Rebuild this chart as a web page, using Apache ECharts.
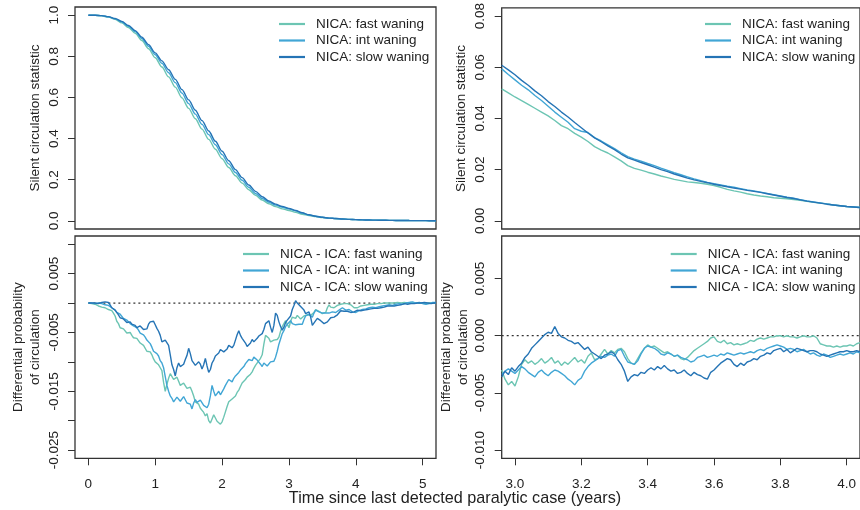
<!DOCTYPE html>
<html>
<head>
<meta charset="utf-8">
<script src="https://cdn.jsdelivr.net/npm/echarts@6/dist/echarts.min.js"></script>
<style>
  html, body { margin: 0; padding: 0; background: #ffffff; }
  #chart { width: 860px; height: 510px; }
</style>
</head>
<body>
<div id="chart"></div>
<script>
// ---- series names ----
const namesSurv = ['NICA: fast waning', 'NICA: int waning', 'NICA: slow waning'];
const namesDiff = ['NICA - ICA: fast waning', 'NICA - ICA: int waning', 'NICA - ICA: slow waning'];

// ---- tick labels ----
const ticksTimeFull = ['0', '1', '2', '3', '4', '5'];
const ticksTimeZoom = ['3.0', '3.2', '3.4', '3.6', '3.8', '4.0'];
const ticksSurvFull = ['0.0', '0.2', '0.4', '0.6', '0.8', '1.0'];
const ticksSurvZoom = ['0.00', '0.02', '0.04', '0.06', '0.08'];
const tickMarksDiffFull = ['-0.025', '-0.020', '-0.015', '-0.010', '-0.005', '0.000', '0.005', '0.010'];
const ticksDiffFull = ['-0.025', '-0.015', '-0.005', '0.005'];
const ticksDiffZoom = ['-0.010', '-0.005', '0.000', '0.005'];

// ---- silent circulation statistic, years 0 to 5.2 every 0.1 ----
const survFast = [1.000, 1.000, 0.997, 0.991, 0.980, 0.963, 0.940, 0.912, 0.877, 0.837,
  0.793, 0.748, 0.700, 0.650, 0.598, 0.547, 0.496, 0.446, 0.396, 0.348,
  0.302, 0.259, 0.219, 0.183, 0.151, 0.124, 0.101, 0.083, 0.069, 0.058,
  0.050, 0.041, 0.032, 0.026, 0.021, 0.016, 0.013, 0.010, 0.0085, 0.007,
  0.0055, 0.0045, 0.0037, 0.003, 0.0025, 0.002, 0.0016, 0.0013, 0.001, 0.0008,
  0.0006, 0.0005, 0.0004];
const survInt = [1.000, 1.000, 0.998, 0.992, 0.982, 0.967, 0.946, 0.920, 0.887, 0.849,
  0.808, 0.766, 0.720, 0.672, 0.621, 0.570, 0.519, 0.469, 0.419, 0.370,
  0.322, 0.277, 0.235, 0.197, 0.163, 0.133, 0.109, 0.090, 0.076, 0.066,
  0.058, 0.048, 0.037, 0.028, 0.022, 0.017, 0.013, 0.011, 0.009, 0.007,
  0.0055, 0.0045, 0.0037, 0.003, 0.0025, 0.002, 0.0016, 0.0013, 0.001, 0.0008,
  0.0006, 0.0005, 0.0004];
const survSlow = [1.000, 1.000, 0.998, 0.993, 0.984, 0.970, 0.950, 0.925, 0.893, 0.857,
  0.817, 0.778, 0.735, 0.688, 0.638, 0.588, 0.538, 0.487, 0.437, 0.387,
  0.338, 0.292, 0.249, 0.210, 0.174, 0.143, 0.117, 0.096, 0.081, 0.070,
  0.060, 0.050, 0.039, 0.029, 0.022, 0.017, 0.013, 0.011, 0.009, 0.007,
  0.0055, 0.0045, 0.0037, 0.003, 0.0025, 0.002, 0.0016, 0.0013, 0.001, 0.0008,
  0.0006, 0.0005, 0.0004];

// ---- silent circulation statistic, years 2.96 to 4.04 every 0.02 ----
const survFastZoom = [0.0516, 0.0500, 0.0484, 0.0470, 0.0455, 0.0440, 0.0425, 0.0410, 0.0392, 0.0372,
  0.0360, 0.0342, 0.0327, 0.0310, 0.0290, 0.0276, 0.0265, 0.0250, 0.0234, 0.0216,
  0.0205, 0.0198, 0.0190, 0.0183, 0.0175, 0.0169, 0.0162, 0.0157, 0.0152, 0.0150,
  0.0147, 0.0143, 0.0138, 0.0131, 0.0123, 0.0117, 0.0112, 0.0106, 0.0101, 0.0097,
  0.0094, 0.0090, 0.0088, 0.0086, 0.0083, 0.0080, 0.0076, 0.0072, 0.0069, 0.0066,
  0.0062, 0.0059, 0.0056, 0.0054, 0.0052];
const survIntZoom = [0.0594, 0.0572, 0.0551, 0.0530, 0.0512, 0.0490, 0.0470, 0.0448, 0.0425, 0.0405,
  0.0385, 0.0360, 0.0350, 0.0345, 0.0325, 0.0312, 0.0297, 0.0282, 0.0266, 0.0251,
  0.0241, 0.0233, 0.0224, 0.0216, 0.0206, 0.0197, 0.0188, 0.0180, 0.0172, 0.0164,
  0.0157, 0.0150, 0.0145, 0.0140, 0.0135, 0.0131, 0.0126, 0.0121, 0.0117, 0.0112,
  0.0107, 0.0102, 0.0097, 0.0092, 0.0088, 0.0083, 0.0078, 0.0074, 0.0070, 0.0066,
  0.0062, 0.0059, 0.0056, 0.0054, 0.0052];
const survSlowZoom = [0.0608, 0.0590, 0.0571, 0.0549, 0.0530, 0.0508, 0.0489, 0.0466, 0.0447, 0.0425,
  0.0406, 0.0384, 0.0364, 0.0343, 0.0324, 0.0309, 0.0293, 0.0278, 0.0261, 0.0246,
  0.0237, 0.0228, 0.0219, 0.0210, 0.0200, 0.0192, 0.0183, 0.0175, 0.0167, 0.0160,
  0.0154, 0.0149, 0.0143, 0.0138, 0.0133, 0.0128, 0.0124, 0.0119, 0.0115, 0.0111,
  0.0106, 0.0101, 0.0096, 0.0091, 0.0087, 0.0082, 0.0077, 0.0073, 0.0069, 0.0065,
  0.0062, 0.0059, 0.0056, 0.0054, 0.0052];

// ---- differential probability of circulation, years 0 to 5.2 every 0.025 ----
const diffFast = [
  0, 0.0000, -0.0001, -0.0002, -0.0002, -0.0004, -0.0005, -0.0005, -0.0007, -0.0009,
  -0.0008, -0.0010, -0.0011, -0.0012, -0.0013, -0.0017, -0.0022, -0.0031, -0.0035, -0.0042,
  -0.0045, -0.0044, -0.0047, -0.0051, -0.0052, -0.0050, -0.0055, -0.0059, -0.0061, -0.0060,
  -0.0063, -0.0068, -0.0067, -0.0072, -0.0075, -0.0082, -0.0085, -0.0083, -0.0088, -0.0095,
  -0.0100, -0.0099, -0.0105, -0.0110, -0.0115, -0.0135, -0.0150, -0.0138, -0.0128, -0.0120,
  -0.0122, -0.0130, -0.0128, -0.0126, -0.0133, -0.0140, -0.0142, -0.0136, -0.0138, -0.0145,
  -0.0146, -0.0143, -0.0150, -0.0158, -0.0168, -0.0165, -0.0172, -0.0179, -0.0180, -0.0186,
  -0.0192, -0.0188, -0.0200, -0.0204, -0.0197, -0.0190, -0.0193, -0.0201, -0.0198, -0.0206,
  -0.0202, -0.0194, -0.0185, -0.0176, -0.0168, -0.0170, -0.0163, -0.0165, -0.0158, -0.0152,
  -0.0148, -0.0142, -0.0136, -0.0138, -0.0130, -0.0126, -0.0123, -0.0121, -0.0117, -0.0111,
  -0.0106, -0.0103, -0.0098, -0.0094, -0.0088, -0.0070, -0.0055, -0.0058, -0.0060, -0.0066,
  -0.0068, -0.0063, -0.0065, -0.0062, -0.0058, -0.0048, -0.0040, -0.0035, -0.0030, -0.0036,
  -0.0042, -0.0031, -0.0024, -0.0027, -0.0026, -0.0021, -0.0023, -0.0027, -0.0024, -0.0022,
  -0.0025, -0.0020, -0.0017, -0.0021, -0.0023, -0.0016, -0.0011, -0.0013, -0.0014, -0.0017,
  -0.0018, -0.0015, -0.0016, -0.0008, -0.0003, -0.0007, -0.0009, -0.0008, -0.0006, -0.0004,
  -0.0003, -0.0002, 0.0000, -0.0001, -0.0002, -0.0001, 0.0000, -0.0003, -0.0006, -0.0008,
  -0.0009, -0.0008, -0.0007, -0.0005, -0.0003, -0.0004, -0.0004, -0.0003, -0.0002, -0.0002,
  -0.0003, -0.0002, -0.0001, -0.0001, -0.0002, -0.0001, 0.0000, 0.0000, -0.0001, 0.0000,
  0.0000, 0.0000, -0.0001, 0.0000, 0.0001, 0.0001, 0.0000, 0.0000, 0.0001, 0.0001,
  0.0000, 0.0000, 0.0001, 0.0001, 0.0000, 0.0000, 0.0001, 0.0000, 0.0000, 0.0000,
  0.0000, -0.0001, -0.0001, 0.0000, 0.0000, 0.0000, 0.0000, 0.0000, 0.0000];
const diffInt = [
  0, 0.0000, 0, -0.0001, -0.0001, 0.0001, 0.0000, -0.0002, -0.0001, -0.0002,
  -0.0003, -0.0002, -0.0004, -0.0007, -0.0008, -0.0009, -0.0012, -0.0016, -0.0018, -0.0019,
  -0.0022, -0.0026, -0.0028, -0.0029, -0.0032, -0.0035, -0.0035, -0.0039, -0.0041, -0.0042,
  -0.0046, -0.0051, -0.0053, -0.0054, -0.0058, -0.0063, -0.0066, -0.0069, -0.0075, -0.0082,
  -0.0085, -0.0086, -0.0090, -0.0098, -0.0102, -0.0110, -0.0125, -0.0140, -0.0150, -0.0158,
  -0.0162, -0.0168, -0.0165, -0.0160, -0.0160, -0.0167, -0.0166, -0.0159, -0.0162, -0.0170,
  -0.0168, -0.0172, -0.0180, -0.0170, -0.0164, -0.0169, -0.0172, -0.0165, -0.0168, -0.0174,
  -0.0176, -0.0178, -0.0172, -0.0158, -0.0140, -0.0150, -0.0158, -0.0154, -0.0150, -0.0156,
  -0.0154, -0.0146, -0.0140, -0.0137, -0.0130, -0.0128, -0.0134, -0.0128, -0.0124, -0.0123,
  -0.0118, -0.0114, -0.0112, -0.0108, -0.0103, -0.0101, -0.0096, -0.0099, -0.0098, -0.0092,
  -0.0094, -0.0097, -0.0100, -0.0104, -0.0108, -0.0102, -0.0103, -0.0107, -0.0106, -0.0100,
  -0.0103, -0.0099, -0.0092, -0.0082, -0.0070, -0.0061, -0.0052, -0.0047, -0.0040, -0.0036,
  -0.0033, -0.0030, -0.0035, -0.0033, -0.0037, -0.0034, -0.0036, -0.0039, -0.0036, -0.0028,
  -0.0022, -0.0024, -0.0019, -0.0020, -0.0024, -0.0017, -0.0012, -0.0013, -0.0015, -0.0018,
  -0.0017, -0.0020, -0.0017, -0.0019, -0.0017, -0.0016, -0.0015, -0.0016, -0.0016, -0.0014,
  -0.0012, -0.0010, -0.0008, -0.0010, -0.0012, -0.0012, -0.0011, -0.0013, -0.0015, -0.0017,
  -0.0016, -0.0014, -0.0013, -0.0012, -0.0011, -0.0011, -0.0010, -0.0009, -0.0008, -0.0008,
  -0.0007, -0.0008, -0.0008, -0.0007, -0.0006, -0.0006, -0.0005, -0.0005, -0.0004, -0.0004,
  -0.0003, -0.0003, -0.0004, -0.0003, -0.0002, -0.0002, -0.0001, -0.0002, -0.0002, -0.0001,
  0.0000, 0.0000, 0.0001, 0.0001, 0.0002, 0.0001, 0.0000, 0.0000, 0.0001, 0.0000,
  -0.0001, -0.0001, -0.0002, -0.0002, -0.0001, 0.0000, 0.0001, 0.0001, 0.0001];
const diffSlow = [
  0, 0.0000, 0, 0.0001, 0, 0.0000, -0.0001, -0.0001, 0.0001, 0.0002,
  0.0002, 0.0001, 0.0001, -0.0003, -0.0008, -0.0011, -0.0012, -0.0014, -0.0020, -0.0025,
  -0.0026, -0.0027, -0.0030, -0.0033, -0.0031, -0.0032, -0.0036, -0.0035, -0.0038, -0.0042,
  -0.0042, -0.0039, -0.0040, -0.0045, -0.0047, -0.0044, -0.0036, -0.0032, -0.0033, -0.0031,
  -0.0037, -0.0043, -0.0048, -0.0055, -0.0066, -0.0069, -0.0063, -0.0065, -0.0072, -0.0088,
  -0.0105, -0.0113, -0.0124, -0.0110, -0.0102, -0.0108, -0.0111, -0.0104, -0.0096, -0.0089,
  -0.0077, -0.0086, -0.0098, -0.0101, -0.0106, -0.0108, -0.0100, -0.0104, -0.0112, -0.0105,
  -0.0094, -0.0107, -0.0118, -0.0113, -0.0102, -0.0097, -0.0090, -0.0093, -0.0085, -0.0079,
  -0.0078, -0.0083, -0.0086, -0.0078, -0.0072, -0.0070, -0.0076, -0.0072, -0.0063, -0.0054,
  -0.0047, -0.0055, -0.0060, -0.0062, -0.0068, -0.0074, -0.0076, -0.0068, -0.0062, -0.0066,
  -0.0067, -0.0060, -0.0056, -0.0057, -0.0052, -0.0045, -0.0035, -0.0036, -0.0030, -0.0041,
  -0.0050, -0.0038, -0.0017, -0.0021, -0.0032, -0.0040, -0.0046, -0.0041, -0.0033, -0.0029,
  -0.0030, -0.0022, -0.0011, -0.0004, 0.0004, 0.0000, -0.0002, -0.0006, -0.0009, -0.0012,
  -0.0018, -0.0019, -0.0015, -0.0024, -0.0038, -0.0035, -0.0030, -0.0026, -0.0027, -0.0030,
  -0.0033, -0.0035, -0.0035, -0.0032, -0.0030, -0.0025, -0.0023, -0.0024, -0.0023, -0.0020,
  -0.0017, -0.0013, -0.0011, -0.0014, -0.0015, -0.0014, -0.0015, -0.0016, -0.0016, -0.0015,
  -0.0013, -0.0012, -0.0014, -0.0013, -0.0012, -0.0012, -0.0013, -0.0011, -0.0010, -0.0010,
  -0.0009, -0.0009, -0.0010, -0.0009, -0.0007, -0.0008, -0.0008, -0.0007, -0.0006, -0.0005,
  -0.0006, -0.0005, -0.0004, -0.0005, -0.0005, -0.0004, -0.0003, -0.0003, -0.0002, -0.0001,
  -0.0001, -0.0002, -0.0002, -0.0001, 0.0000, -0.0001, -0.0001, 0.0000, 0.0001, 0.0000,
  0.0000, 0.0001, 0.0001, 0.0000, -0.0001, -0.0001, 0.0000, 0.0000, 0.0000];

// ---- differential probability of circulation, years 2.96 to 4.04 every 0.01 ----
const diffFastZoom = [-0.0030, -0.0038, -0.0043, -0.0040, -0.0044, -0.0036, -0.0025, -0.0021, -0.0024, -0.0022,
  -0.0025, -0.0023, -0.0020, -0.0024, -0.0022, -0.0019, -0.0024, -0.0022, -0.0026, -0.0023,
  -0.0025, -0.0022, -0.0019, -0.0023, -0.0021, -0.0024, -0.0018, -0.0015, -0.0021, -0.0020,
  -0.0016, -0.0012, -0.0016, -0.0013, -0.0015, -0.0012, -0.0011, -0.0014, -0.0020, -0.0024,
  -0.0025, -0.0020, -0.0015, -0.0011, -0.0008, -0.0010, -0.0009, -0.0011, -0.0013, -0.0015,
  -0.0014, -0.0016, -0.0018, -0.0017, -0.0020, -0.0021, -0.0019, -0.0016, -0.0013, -0.0011,
  -0.0009, -0.0007, -0.0005, -0.0002, -0.0001, -0.0005, -0.0006, -0.0004, -0.0007, -0.0006,
  -0.0008, -0.0007, -0.0008, -0.0007, -0.0006, -0.0004, -0.0005, -0.0003, -0.0002, -0.0003,
  -0.0002, -0.0001, -0.0001, 0.0000, 0.0000, -0.0001, 0.0000, -0.0001, -0.0001, -0.0002,
  -0.0001, 0.0000, -0.0001, -0.0001, 0.0000, -0.0002, -0.0007, -0.0008, -0.0009, -0.0009,
  -0.0010, -0.0009, -0.0010, -0.0009, -0.0009, -0.0008, -0.0009, -0.0007, -0.0006];
const diffIntZoom = [-0.0034, -0.0031, -0.0029, -0.0031, -0.0033, -0.0030, -0.0027, -0.0029, -0.0032, -0.0034,
  -0.0036, -0.0032, -0.0030, -0.0033, -0.0035, -0.0032, -0.0030, -0.0031, -0.0033, -0.0035,
  -0.0038, -0.0040, -0.0043, -0.0039, -0.0037, -0.0031, -0.0027, -0.0024, -0.0022, -0.0020,
  -0.0018, -0.0019, -0.0017, -0.0016, -0.0018, -0.0013, -0.0012, -0.0018, -0.0023, -0.0024,
  -0.0025, -0.0022, -0.0016, -0.0011, -0.0009, -0.0010, -0.0011, -0.0013, -0.0016, -0.0017,
  -0.0015, -0.0016, -0.0018, -0.0017, -0.0019, -0.0020, -0.0021, -0.0023, -0.0022, -0.0019,
  -0.0018, -0.0017, -0.0019, -0.0018, -0.0017, -0.0018, -0.0016, -0.0017, -0.0015, -0.0016,
  -0.0017, -0.0016, -0.0015, -0.0016, -0.0015, -0.0014, -0.0015, -0.0013, -0.0012, -0.0013,
  -0.0011, -0.0010, -0.0009, -0.0008, -0.0009, -0.0010, -0.0012, -0.0011, -0.0012, -0.0014,
  -0.0013, -0.0012, -0.0014, -0.0016, -0.0015, -0.0017, -0.0018, -0.0016, -0.0017, -0.0019,
  -0.0018, -0.0017, -0.0016, -0.0017, -0.0016, -0.0015, -0.0016, -0.0014, -0.0015];
const diffSlowZoom = [-0.0036, -0.0031, -0.0034, -0.0028, -0.0031, -0.0027, -0.0024, -0.0019, -0.0016, -0.0011,
  -0.0008, -0.0005, -0.0002, 0.0001, 0.0003, 0.0002, 0.0008, 0.0002, -0.0001, -0.0002,
  -0.0004, -0.0005, -0.0007, -0.0006, -0.0009, -0.0012, -0.0010, -0.0014, -0.0016, -0.0018,
  -0.0020, -0.0017, -0.0016, -0.0014, -0.0016, -0.0021, -0.0025, -0.0031, -0.0040, -0.0036,
  -0.0034, -0.0035, -0.0032, -0.0033, -0.0030, -0.0028, -0.0030, -0.0027, -0.0029, -0.0026,
  -0.0029, -0.0031, -0.0030, -0.0033, -0.0032, -0.0030, -0.0033, -0.0035, -0.0032, -0.0034,
  -0.0035, -0.0037, -0.0038, -0.0032, -0.0030, -0.0027, -0.0024, -0.0022, -0.0020, -0.0021,
  -0.0025, -0.0027, -0.0024, -0.0026, -0.0023, -0.0022, -0.0020, -0.0021, -0.0018, -0.0017,
  -0.0015, -0.0016, -0.0013, -0.0012, -0.0011, -0.0014, -0.0012, -0.0015, -0.0013, -0.0011,
  -0.0012, -0.0013, -0.0014, -0.0013, -0.0013, -0.0014, -0.0016, -0.0017, -0.0018, -0.0017,
  -0.0016, -0.0015, -0.0014, -0.0014, -0.0013, -0.0014, -0.0014, -0.0013, -0.0014];

// ---- time grids (regular sampling in years) ----
function seq(from, to, by) {
  const n = Math.round((to - from) / by) + 1;
  return Array.from({ length: n }, (_, i) => +(from + i * by).toFixed(4));
}
const timeSurv = seq(0, 5.2, 0.1);
const timeSurvZoom = seq(2.96, 4.04, 0.02);
const timeDiff = seq(0, 5.2, 0.025);
const timeDiffZoom = seq(2.96, 4.04, 0.01);

// ---- styling ----
const colors = ['#6cc5b3', '#41a6d5', '#2574b5'];
const FONT = '"Liberation Sans", Arial, Helvetica, sans-serif';
const INK = '#222222';
const FRAME = '#333333';

const pair = (xs, ys) => xs.map((x, i) => [x, ys[i]]);

function xAxisDef(gridIndex, min, max, labels) {
  const vals = labels ? labels.map(Number) : [];
  return {
    type: 'value', gridIndex, min, max, position: 'bottom',
    splitLine: { show: false },
    axisLine: { show: false, onZero: false },
    axisTick: { show: !!labels, customValues: vals, length: 7, lineStyle: { color: FRAME, width: 1 } },
    axisLabel: {
      show: !!labels, customValues: vals, margin: 19,
      formatter: (v) => labels[vals.indexOf(v)] !== undefined ? labels[vals.indexOf(v)] : String(v),
      color: INK, fontFamily: FONT, fontSize: 13.5
    }
  };
}

function yAxisDef(gridIndex, min, max, tickVals, labels, name, nameGap) {
  const labVals = labels.map(Number);
  return {
    type: 'value', gridIndex, min, max, position: 'left',
    splitLine: { show: false },
    axisLine: { show: false, onZero: false },
    axisTick: { show: true, customValues: tickVals.map(Number), length: 7, lineStyle: { color: FRAME, width: 1 } },
    axisLabel: {
      show: true, customValues: labVals, rotate: 90, margin: 14,
      formatter: (v) => labels[labVals.indexOf(v)] !== undefined ? labels[labVals.indexOf(v)] : String(v),
      color: INK, fontFamily: FONT, fontSize: 13.5
    },
    name, nameLocation: 'middle', nameRotate: 90, nameGap,
    nameTextStyle: { color: INK, fontFamily: FONT, fontSize: 13.5, lineHeight: 17 }
  };
}

function lineSeries(name, xi, yi, xs, ys, color, smooth) {
  return {
    name, type: 'line', xAxisIndex: xi, yAxisIndex: yi,
    data: pair(xs, ys), showSymbol: false, symbol: 'none',
    smooth: smooth ? 0.3 : false, smoothMonotone: smooth ? 'x' : undefined,
    clip: true, silent: true,
    lineStyle: { color, width: 1.4 }, itemStyle: { color }
  };
}

function zeroLine(xi, yi, x0, x1) {
  return {
    name: 'zero', type: 'line', xAxisIndex: xi, yAxisIndex: yi,
    data: [[x0, 0], [x1, 0]], showSymbol: false, symbol: 'none', silent: true, z: 1,
    lineStyle: { color: FRAME, width: 1.2, type: [2, 3] }
  };
}

function legendDef(left, top, names) {
  return {
    data: names, left, top, orient: 'vertical', padding: 0, itemGap: 0.5,
    icon: 'rect', itemWidth: 26, itemHeight: 2.2, selectedMode: false,
    textStyle: { color: INK, fontFamily: FONT, fontSize: 13.5, lineHeight: 16, padding: [0, 0, 0, 6] }
  };
}

const gridBox = { show: true, borderColor: FRAME, borderWidth: 1.3, backgroundColor: 'transparent' };

const option = {
  animation: false,
  backgroundColor: '#ffffff',
  grid: [
    Object.assign({ left: 75, top: 7, width: 361, height: 222 }, gridBox),
    Object.assign({ left: 501.7, top: 7, width: 360, height: 222 }, gridBox),
    Object.assign({ left: 75, top: 236, width: 361, height: 222.3 }, gridBox),
    Object.assign({ left: 501.7, top: 236, width: 360, height: 222.3 }, gridBox)
  ],
  xAxis: [
    xAxisDef(0, -0.2, 5.2, null),
    xAxisDef(1, 2.96, 4.04, null),
    xAxisDef(2, -0.2, 5.2, ticksTimeFull),
    xAxisDef(3, 2.96, 4.04, ticksTimeZoom)
  ],
  yAxis: [
    yAxisDef(0, -0.04, 1.04, ticksSurvFull, ticksSurvFull, 'Silent circulation statistic', 31.5),
    yAxisDef(1, -0.0032, 0.0832, ticksSurvZoom, ticksSurvZoom, 'Silent circulation statistic', 31.5),
    yAxisDef(2, -0.0264, 0.0114, tickMarksDiffFull, ticksDiffFull, 'Differential probability\nof circulation', 31),
    yAxisDef(3, -0.01072, 0.00872, ticksDiffZoom, ticksDiffZoom, 'Differential probability\nof circulation', 30)
  ],
  legend: [
    legendDef(279, 16, namesSurv),
    legendDef(705, 16, namesSurv),
    legendDef(243, 246, namesDiff),
    legendDef(670.7, 246, namesDiff)
  ],
  graphic: [{
    type: 'text', x: 455, y: 491,
    style: {
      text: 'Time since last detected paralytic case (years)',
      fill: INK, font: '16.2px ' + FONT, textAlign: 'center'
    }
  }],
  series: [
    lineSeries(namesSurv[0], 0, 0, timeSurv, survFast, colors[0], true),
    lineSeries(namesSurv[1], 0, 0, timeSurv, survInt, colors[1], true),
    lineSeries(namesSurv[2], 0, 0, timeSurv, survSlow, colors[2], true),

    lineSeries(namesSurv[0], 1, 1, timeSurvZoom, survFastZoom, colors[0], false),
    lineSeries(namesSurv[1], 1, 1, timeSurvZoom, survIntZoom, colors[1], false),
    lineSeries(namesSurv[2], 1, 1, timeSurvZoom, survSlowZoom, colors[2], false),

    zeroLine(2, 2, 0, 5.2),
    lineSeries(namesDiff[0], 2, 2, timeDiff, diffFast, colors[0], false),
    lineSeries(namesDiff[1], 2, 2, timeDiff, diffInt, colors[1], false),
    lineSeries(namesDiff[2], 2, 2, timeDiff, diffSlow, colors[2], false),

    zeroLine(3, 3, 2.96, 4.04),
    lineSeries(namesDiff[0], 3, 3, timeDiffZoom, diffFastZoom, colors[0], false),
    lineSeries(namesDiff[1], 3, 3, timeDiffZoom, diffIntZoom, colors[1], false),
    lineSeries(namesDiff[2], 3, 3, timeDiffZoom, diffSlowZoom, colors[2], false)
  ]
};

const chart = echarts.init(document.getElementById('chart'), null, { renderer: 'canvas' });
chart.setOption(option);
</script>
</body>
</html>
